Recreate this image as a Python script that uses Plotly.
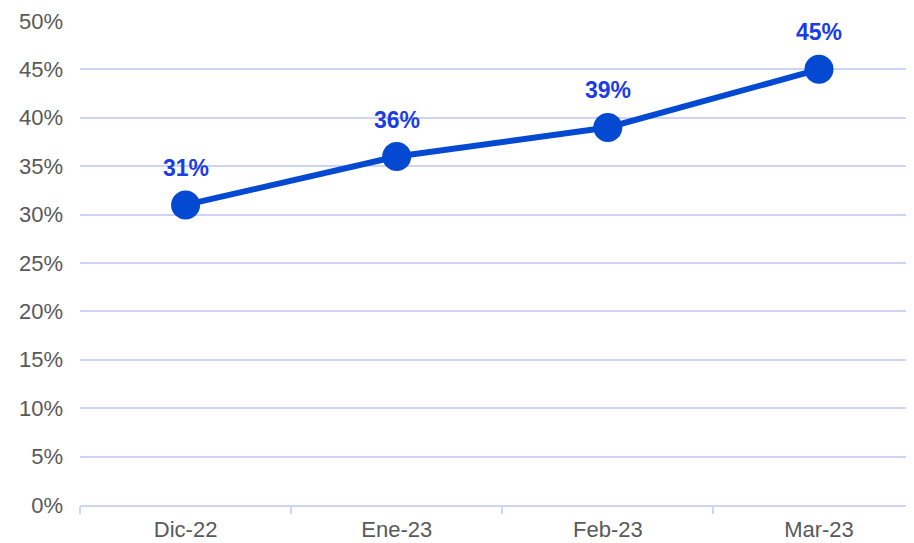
import plotly.graph_objects as go

categories = ["Dic-22", "Ene-23", "Feb-23", "Mar-23"]
values = [31, 36, 39, 45]
y_ticks = [0, 5, 10, 15, 20, 25, 30, 35, 40, 45, 50]
y_tick_labels = [f"{v}%" for v in y_ticks]

LINE = "#0349d2"
LABEL = "#1c3ce6"
GRID = "#cdd4f6"
TEXT = "#595959"
FONT = "Liberation Sans, Arial"

fig = go.Figure()
fig.add_trace(go.Scatter(
    x=categories, y=values, mode="lines+markers",
    line=dict(color=LINE, width=6),
    marker=dict(color=LINE, size=29),
    hoverinfo="skip", showlegend=False,
))
for c, v in zip(categories, values):
    fig.add_annotation(x=c, y=v, text=f"<b>{v}%</b>", showarrow=False,
                       yshift=37, font=dict(family=FONT, size=23, color=LABEL))

fig.update_layout(
    width=906, height=535,
    margin=dict(l=72, r=0, t=12, b=38),
    plot_bgcolor="white", paper_bgcolor="white",
    font=dict(family=FONT, size=22, color=TEXT),
)
fig.update_xaxes(
    type="category", range=[-0.5, 3.45], automargin=False,
    showgrid=False, showline=True, linecolor=GRID, linewidth=2,
    ticks="outside", tickson="boundaries", ticklen=7, tickcolor=GRID, tickwidth=2,
    tickfont=dict(size=22, color=TEXT), ticklabelstandoff=4,
)
fig.update_yaxes(
    range=[0, 50.1], tickvals=y_ticks, ticktext=y_tick_labels, automargin=False,
    showgrid=True, gridcolor=GRID, gridwidth=2, zeroline=False,
    showline=False, ticks="", tickfont=dict(size=22, color=TEXT),
    ticklabelstandoff=16, ticklabeloverflow="allow",
)
fig.write_html("out.html")
